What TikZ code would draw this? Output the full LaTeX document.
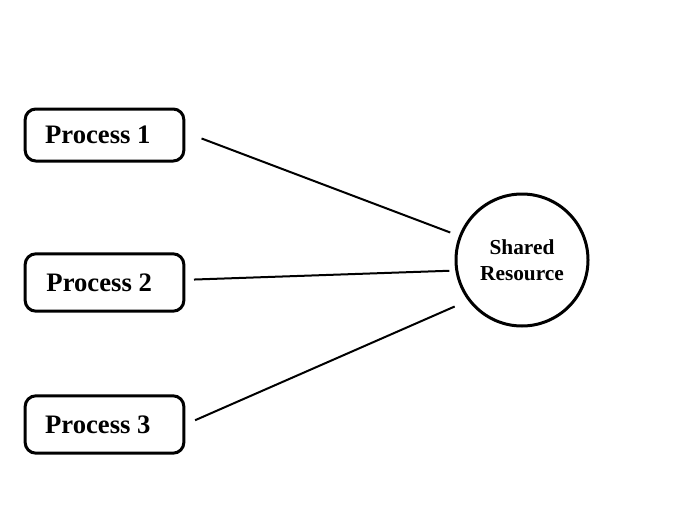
\documentclass[tikz,border=0pt]{standalone}
\usepackage{fontspec}
\setmainfont{Liberation Serif}
\usetikzlibrary{positioning, calc}

\begin{document}
\begin{tikzpicture}[
    x=0.75pt, y=-0.75pt,
    process/.style={draw=black, line width=2.25pt, rounded corners=8pt, minimum width=119pt, minimum height=43pt, inner sep=0pt, font=\fontsize{20}{24}\selectfont\bfseries},
    resource/.style={draw=black, line width=2.25pt, circle, minimum size=99pt, inner sep=0pt, align=center, font=\fontsize{16}{19.5}\selectfont\bfseries},
    link/.style={line width=1.5pt, black}
]

% Canvas
\useasboundingbox (0,0) rectangle (696,518);

% ===== Processes =====
\node[process, minimum height=39pt] (p1) at (104.5,135) {Process 1\kern10pt};
\node[process] (p2) at (104.5,282.5) {Process 2\kern8pt};
\node[process] (p3) at (104.5,424.5) {Process 3\kern10pt};

% ===== Shared resource =====
\node[resource] (res) at (522,260) {Shared\\Resource};

% ===== Links =====
\draw[link, shorten <=13pt, shorten >=7pt] ([yshift=2pt]p1.east) -- (res.159);
\draw[link, shorten <=6.5pt, shorten >=4.5pt] ([yshift=2pt]p2.east) -- (res.189);
\draw[link, shorten <=8pt, shorten >=11pt] (p3.east) -- (res.217);

\end{tikzpicture}
\end{document}
